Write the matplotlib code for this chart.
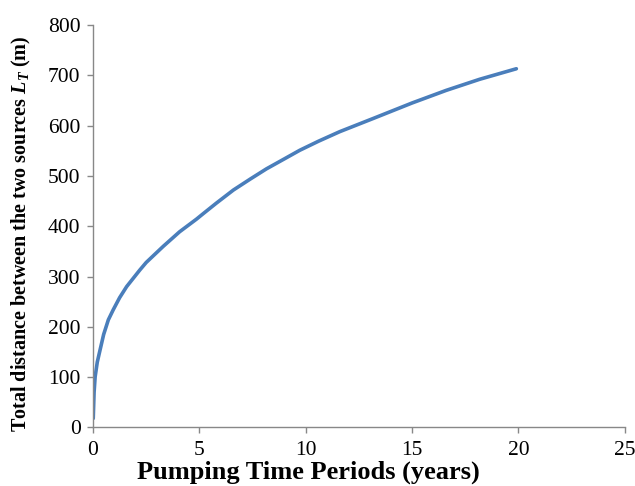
import matplotlib
matplotlib.use('Agg')
import matplotlib.pyplot as plt

# values
years = [0.01, 0.05, 0.1, 0.2, 0.33, 0.5, 0.72, 0.95, 1.25, 1.58, 2.2, 2.5,
         3.3, 4.07, 4.86, 5.18, 5.8, 6.6, 7.4, 8.15, 9.0, 9.72, 10.6, 11.6,
         13.16, 15.0, 16.6, 18.17, 19.9]
distance = [18, 70, 101, 130, 154, 185, 214, 234, 258, 280, 313, 328,
            360, 389, 414, 425, 446, 472, 494, 514, 534, 551, 569, 588,
            614, 645, 670, 692, 713]

x_ticks = [0, 5, 10, 15, 20, 25]
y_ticks = [0, 100, 200, 300, 400, 500, 600, 700, 800]

plt.rcParams['font.family'] = ['Liberation Serif', 'DejaVu Serif']
plt.rcParams['mathtext.fontset'] = 'custom'
plt.rcParams['mathtext.it'] = 'Liberation Serif:italic:bold'
plt.rcParams['mathtext.rm'] = 'Liberation Serif:bold'

fig = plt.figure(figsize=(6.35, 4.86), dpi=100)
ax = fig.add_axes([0.1465, 0.1204, 0.8375, 0.8282])

ax.plot(years, distance, color='#4a7ebb', lw=2.6, solid_capstyle='round')

ax.set_xlim(0, 25)
ax.set_ylim(0, 800)
ax.set_xticks(x_ticks)
ax.set_yticks(y_ticks)
ax.tick_params(labelsize=15.5, direction='out', length=4.5, color='#888888', width=1)
ax.tick_params(axis='y', pad=4.5)
ax.tick_params(axis='x', pad=5.5)

for side in ['top', 'right']:
    ax.spines[side].set_visible(False)
for side in ['left', 'bottom']:
    ax.spines[side].set_color('#888888')
    ax.spines[side].set_linewidth(1)

ax.set_xlabel('Pumping Time Periods (years)', fontsize=19, fontweight='bold')
ax.xaxis.set_label_coords(0.404, -0.083)
ax.set_ylabel('Total distance between the two sources $L_T$ (m)',
              fontsize=14.5, fontweight='bold')
ax.yaxis.set_label_coords(-0.113, 0.482)

plt.savefig('out.png', dpi=100)
plt.close()
